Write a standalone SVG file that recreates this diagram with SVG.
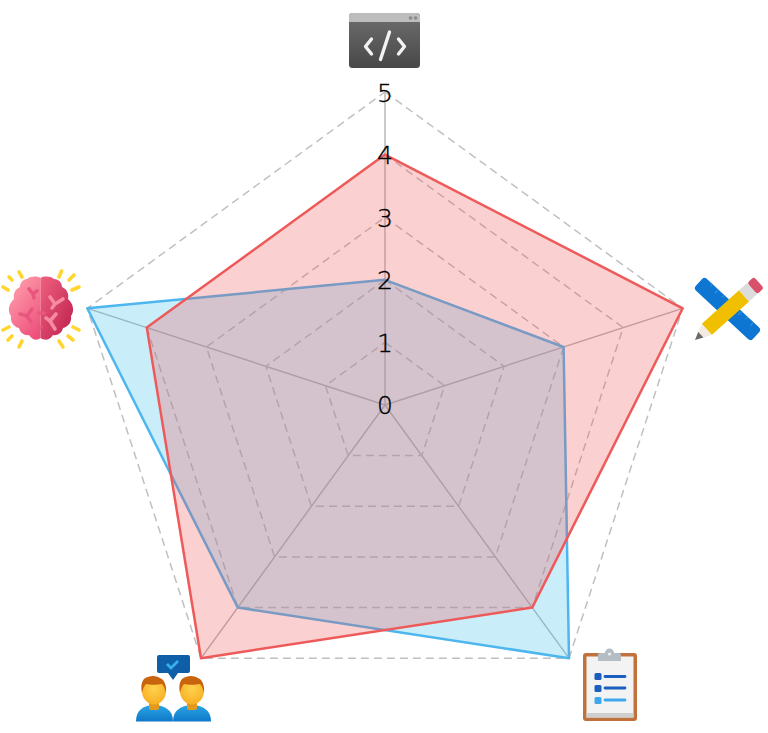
<svg xmlns="http://www.w3.org/2000/svg" width="768" height="733" viewBox="0 0 768 733">
<style>
.axis{stroke:#b5b5b5;stroke-width:1.4;fill:none}
.grid{stroke:#c0c0c0;stroke-width:1.5;stroke-dasharray:8 5;fill:none}
.tick{font-family:"DejaVu Sans",Inter,sans-serif;font-weight:200;font-size:25px;fill:#000;stroke:#000;stroke-width:0.35px;text-anchor:middle}
.ray{stroke:#ffd52e;stroke-width:3.6;stroke-linecap:round}
.vein{stroke-width:3.6;stroke-linecap:round;stroke-linejoin:round;fill:none}
</style>
<defs>
<linearGradient id="win" x1="0" y1="0" x2="0" y2="1"><stop offset="0" stop-color="#6e6e6e"/><stop offset="1" stop-color="#484848"/></linearGradient>
<linearGradient id="brainL" x1="0.2" y1="0" x2="0.8" y2="1"><stop offset="0" stop-color="#ffa0ac"/><stop offset="1" stop-color="#ee4f7c"/></linearGradient>
<linearGradient id="brainR" x1="0" y1="0" x2="1" y2="1"><stop offset="0" stop-color="#f0607f"/><stop offset="1" stop-color="#bb1f4c"/></linearGradient>
<radialGradient id="face" cx="0.5" cy="0.4" r="0.6"><stop offset="0" stop-color="#ffd24d"/><stop offset="1" stop-color="#f7b024"/></radialGradient>
<linearGradient id="shirt" x1="0" y1="0" x2="0" y2="1"><stop offset="0" stop-color="#2ba6e6"/><stop offset="1" stop-color="#0f78c8"/></linearGradient>
</defs>
<g id="connectors">
<path class="axis" d="M385 405V92M385 405L682.700 308.300M385 405L569 658.200M385 405L201 658.200M385 405L87.300 308.300"/>
<polygon class="grid" points="385,342.400 444.500,385.700 421.800,455.600 348.200,455.600 325.500,385.700"/>
<polygon class="grid" points="385,279.800 504.100,366.300 458.600,506.300 311.400,506.300 265.900,366.300"/>
<polygon class="grid" points="385,217.200 563.600,347 495.400,556.900 274.600,556.900 206.400,347"/>
<polygon class="grid" points="385,154.600 623.200,327.600 532.200,607.600 237.800,607.600 146.800,327.600"/>
<polygon class="grid" points="385,92 682.700,308.300 569,658.200 201,658.200 87.300,308.300"/>
</g>
<g id="series-blue">
<polygon points="385,279.800 563.600,347 569,658.200 237.800,607.600 87.300,308.300" fill="#4fc3f0" fill-opacity="0.3" stroke="#4db6ee" stroke-width="2.500" stroke-linejoin="round"/>
</g>
<g id="series-red">
<polygon points="385,154.600 682.700,308.300 532.200,607.600 201,658.200 146.800,327.600" fill="#ef5350" fill-opacity="0.27" stroke="#ee5a5a" stroke-width="2.500" stroke-linejoin="round"/>
</g>
<g id="tick-labels">
<text class="tick" x="385" y="414">0</text>
<text class="tick" x="385" y="352">1</text>
<text class="tick" x="385" y="289">2</text>
<text class="tick" x="385" y="227">3</text>
<text class="tick" x="385" y="164">4</text>
<text class="tick" x="385" y="102">5</text>
</g>
<g id="icon-code">
<rect x="349" y="13" width="71" height="55" rx="3.500" fill="url(#win)"/>
<path d="M349 22v-5.500a3.500 3.500 0 0 1 3.500-3.500h64a3.500 3.500 0 0 1 3.500 3.500V22z" fill="#bdbdbd"/>
<circle cx="410.500" cy="18" r="1.800" fill="#8a8a8a"/><circle cx="415.500" cy="18" r="1.800" fill="#8a8a8a"/>
<path d="M371.500 39l-6 7.500 6 7.500M398.500 39l6 7.500-6 7.500" fill="none" stroke="#f2f2f2" stroke-width="3.400" stroke-linecap="round" stroke-linejoin="round"/>
<path d="M389.500 32L380.500 59.500" fill="none" stroke="#f2f2f2" stroke-width="3.400" stroke-linecap="round"/>
</g>
<g id="icon-brain">
<path class="ray" d="M19 272L22 277M9 277L12 280M3 287L8 290M3 330L9 327M8 340L12 336M19 347L22 341M61.500 271L59 277M74 275L69 280M79 287L72 290M79 330L73 327M73 340L68 336M63 347L59 341"/>
<path d="M40.500 278C37 276 31 276 27 279C23 279 20 283 20 287C15 289 13 294 14 299C9 303 7 311 11 316C10 322 14 327 19 328C20 333 25 336 29 335C32 340 37 341 40.500 338Z" fill="url(#brainL)"/>
<path d="M40.500 278C44 276 50 276 54 279C59 279 62 283 62 287C67 289 69 294 68 299C73 303 75 311 71 316C72 322 68 327 63 328C62 333 57 336 53 335C50 340 45 341 40.500 338Z" fill="url(#brainR)"/>
<path class="vein" stroke="#e8587e" d="M29 289L33 294L34 298M33 294L37 291M20 314L27 316L32 309M27 316L31 322M39 313L44 313M37 330L41 327"/>
<path class="vein" stroke="#f58aa0" d="M50 297L55 304L63 299M55 304L52 308M56 314L50 321L55 329M50 321L46 318"/>
</g>
<g id="icon-tools">
<rect x="-39" y="-8" width="78" height="16" rx="3.500" transform="translate(727.500 309) rotate(43)" fill="#0d76d2"/>
<path d="M-28 -8v3M-20 -8v5M-12 -8v3M-4 -8v5M4 -8v3M12 -8v5M20 -8v3M28 -8v5" transform="translate(727.500 309) rotate(43)" stroke="#2f88da" stroke-width="1.600" fill="none"/>
<g transform="translate(695 340) rotate(-42)">
<polygon points="0,0 8,-4 8,4" fill="#6b6b6b"/>
<polygon points="8,-4 16,-7.500 16,7.500 8,4" fill="#f2ece0"/>
<rect x="16" y="-7.500" width="50" height="15" fill="#f0c000"/>
<rect x="66" y="-7.500" width="11" height="15" fill="#dcdcdc"/>
<rect x="77" y="-7.500" width="9" height="15" rx="2.500" fill="#d9506a"/>
</g>
</g>
<g id="icon-team">
<path d="M159 655h29a2 2 0 0 1 2 2v14a2 2 0 0 1-2 2h-10l-5 7-5-7h-9a2 2 0 0 1-2-2v-14a2 2 0 0 1 2-2z" fill="#0f5fa8"/>
<path d="M167 664l4 4 7-7" fill="none" stroke="#35b0ea" stroke-width="2.800"/>
<path d="M136 721c0-11 8-16 18-16s19 5 19 16q0 .5-1 .5h-35q-1 0-1-.5z" fill="url(#shirt)"/>
<path d="M173 721c0-11 9-16 19-16s19 5 19 16q0 .5-1 .5h-36q-1 0-1-.5z" fill="url(#shirt)"/>
<rect x="149" y="699" width="10" height="11" rx="2" fill="#e29a1c"/>
<rect x="187" y="699" width="10" height="11" rx="2" fill="#e29a1c"/>
<ellipse cx="154" cy="691" rx="12" ry="13.500" fill="url(#face)"/>
<ellipse cx="192" cy="691" rx="12" ry="13.500" fill="url(#face)"/>
<path d="M142 693c-2-10 1-15 6-16 4-2 9-1 12 1 4 1 7 8 6 15-1-4-2-7-4-9-5 1-12 1-16 0-2 2-3 5-4 9z" fill="#c9640e"/>
<path d="M180 693c-2-10 1-15 6-16 4-2 9-1 12 1 4 1 7 8 6 15-1-4-2-7-4-9-5 1-12 1-16 0-2 2-3 5-4 9z" fill="#c9640e"/>
</g>
<g id="icon-clipboard">
<rect x="583" y="653" width="54" height="68" rx="3" fill="#c0713c"/>
<rect x="586.500" y="656.500" width="47" height="61" fill="#f3f3f3"/>
<rect x="586.500" y="713" width="47" height="4.500" fill="#cfcfcf"/>
<path d="M598 661v-6a2 2 0 0 1 2-2h5a4.500 4.500 0 0 1 9 0h5a2 2 0 0 1 2 2v6z" fill="#b4bcc4"/>
<circle cx="609.500" cy="654" r="1.500" fill="#f3f3f3"/>
<rect x="594.500" y="673" width="7" height="7" rx="1.500" fill="#1b5fbe"/>
<rect x="594.500" y="685" width="7" height="7" rx="1.500" fill="#1b5fbe"/>
<rect x="594.500" y="697" width="7" height="7" rx="1.500" fill="#3ea8ec"/>
<path d="M605 676.500h20M605 688h20" stroke="#1b5fbe" stroke-width="2.800" stroke-linecap="round"/>
<path d="M605 700h20" stroke="#3ea8ec" stroke-width="2.800" stroke-linecap="round"/>
</g>
</svg>
